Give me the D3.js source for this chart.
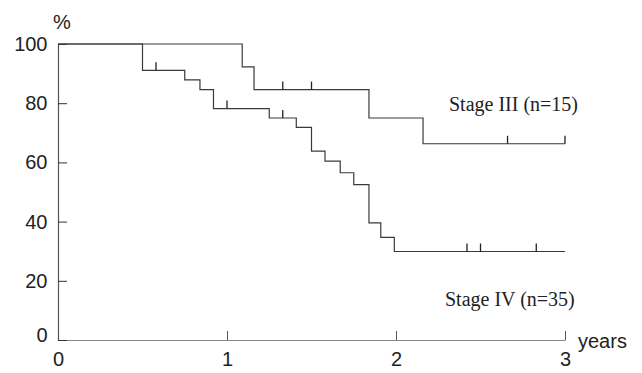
<!DOCTYPE html>
<html>
<head>
<meta charset="utf-8">
<script src="https://cdn.jsdelivr.net/npm/d3@7"></script>
<style>
  body { margin: 0; background: #fff; }
  svg { display: block; }
  .axis text { font-family: "Liberation Sans", Arial, sans-serif; font-size: 20px; fill: #222; }
  .stage-label { font-family: "Liberation Serif", "Times New Roman", serif; font-size: 20px; fill: #222; }
  .unit-label { font-family: "Liberation Sans", Arial, sans-serif; font-size: 20px; fill: #222; }
</style>
</head>
<body>
<svg id="chart" width="642" height="373"></svg>
<script>
// Stage III (n=15): step times (years) and survival (%) after each step
const stage3Times = [0, 1.09, 1.16, 1.84, 2.16];
const stage3Surv = [100, 92.3, 84.6, 75.0, 66.3];
const stage3Censored = [1.33, 1.50, 2.66, 3.0];

// Stage IV (n=35)
const stage4Times = [0, 0.50, 0.75, 0.84, 0.92, 1.25, 1.41, 1.50, 1.58, 1.67, 1.75, 1.84, 1.91, 1.99];
const stage4Surv = [100, 91.1, 87.9, 84.6, 78.2, 75.0, 71.8, 63.8, 60.4, 56.5, 52.5, 39.6, 34.7, 29.9];
const stage4Censored = [0.58, 1.0, 1.33, 2.42, 2.50, 2.83];

const followUpEnd = 3;
const xTicks = [0, 1, 2, 3];
const yTicks = [0, 20, 40, 60, 80, 100];

// Dimensions
const width = 642;
const height = 373;
const margins = { left: 58, top: 44, right: 77, bottom: 33 };
const innerWidth = width - margins.left - margins.right;
const innerHeight = height - margins.top - margins.bottom;

const svg = d3.select('#chart');

// Scales
const x = d3.scaleLinear().domain([0, 3]).range([0, innerWidth]);
const y = d3.scaleLinear().domain([0, 100]).range([innerHeight, 0]);

const plot = svg.append('g')
    .attr('transform', `translate(${margins.left}, ${margins.top})`);

// Axes: ticks point inward
const xAxis = d3.axisBottom(x)
    .tickValues(xTicks)
    .tickFormat(d3.format('d'))
    .tickSizeInner(-9)
    .tickSizeOuter(0)
    .tickPadding(12);

const yAxis = d3.axisLeft(y)
    .tickValues(yTicks)
    .tickFormat(d3.format('d'))
    .tickSizeInner(-9)
    .tickSizeOuter(0)
    .tickPadding(10.5);

const xAxisContainer = plot.append('g')
    .attr('class', 'axis x-axis')
    .attr('transform', `translate(0, ${innerHeight})`)
    .call(xAxis);

const yAxisContainer = plot.append('g')
    .attr('class', 'axis y-axis')
    .call(yAxis);

xAxisContainer.select('.domain').attr('stroke', '#888').attr('stroke-width', 1.2);
xAxisContainer.selectAll('.tick line').attr('stroke', '#555');
yAxisContainer.select('.domain').attr('stroke', '#555').attr('stroke-width', 1.2);
yAxisContainer.selectAll('.tick line').attr('stroke', '#333');

// lift the zero label a little so it clears the x labels
yAxisContainer.selectAll('.tick text')
    .filter(d => d === 0)
    .attr('dy', '0.05em');

// Kaplan-Meier curves
const line = d3.line()
    .x(d => x(d[0]))
    .y(d => y(d[1]))
    .curve(d3.curveStepAfter);

function steps(times, surv) {
    const pts = times.map((t, i) => [t, surv[i]]);
    pts.push([followUpEnd, surv[surv.length - 1]]);
    return pts;
}

function survAt(times, surv, t) {
    let s = surv[0];
    times.forEach((tt, i) => { if (tt <= t) s = surv[i]; });
    return s;
}

const series = [
    { name: 'stage3', times: stage3Times, surv: stage3Surv, censored: stage3Censored },
    { name: 'stage4', times: stage4Times, surv: stage4Surv, censored: stage4Censored },
];

const dataContainer = plot.append('g').attr('class', 'data-container');

dataContainer.selectAll('path.km')
    .data(series)
    .enter()
    .append('path')
    .attr('class', 'km')
    .attr('fill', 'none')
    .attr('stroke', '#3a3a3a')
    .attr('stroke-width', 1.2)
    .attr('d', d => line(steps(d.times, d.surv)));

// Censor marks
series.forEach(s => {
    dataContainer.selectAll(`line.censor-${s.name}`)
        .data(s.censored)
        .enter()
        .append('line')
        .attr('class', `censor-${s.name}`)
        .attr('x1', t => x(t))
        .attr('x2', t => x(t))
        .attr('y1', t => y(survAt(s.times, s.surv, t)))
        .attr('y2', t => y(survAt(s.times, s.surv, t)) - 8)
        .attr('stroke', '#222')
        .attr('stroke-width', 1.3);
});

// Labels
svg.append('text')
    .attr('class', 'unit-label')
    .attr('x', 62)
    .attr('y', 29)
    .attr('text-anchor', 'middle')
    .text('%');

svg.append('text')
    .attr('class', 'unit-label')
    .attr('x', 578)
    .attr('y', 348)
    .text('years');

svg.append('text')
    .attr('class', 'stage-label')
    .attr('x', 449)
    .attr('y', 110.5)
    .text('Stage III (n=15)');

svg.append('text')
    .attr('class', 'stage-label')
    .attr('x', 445)
    .attr('y', 306)
    .text('Stage IV (n=35)');
</script>
</body>
</html>
